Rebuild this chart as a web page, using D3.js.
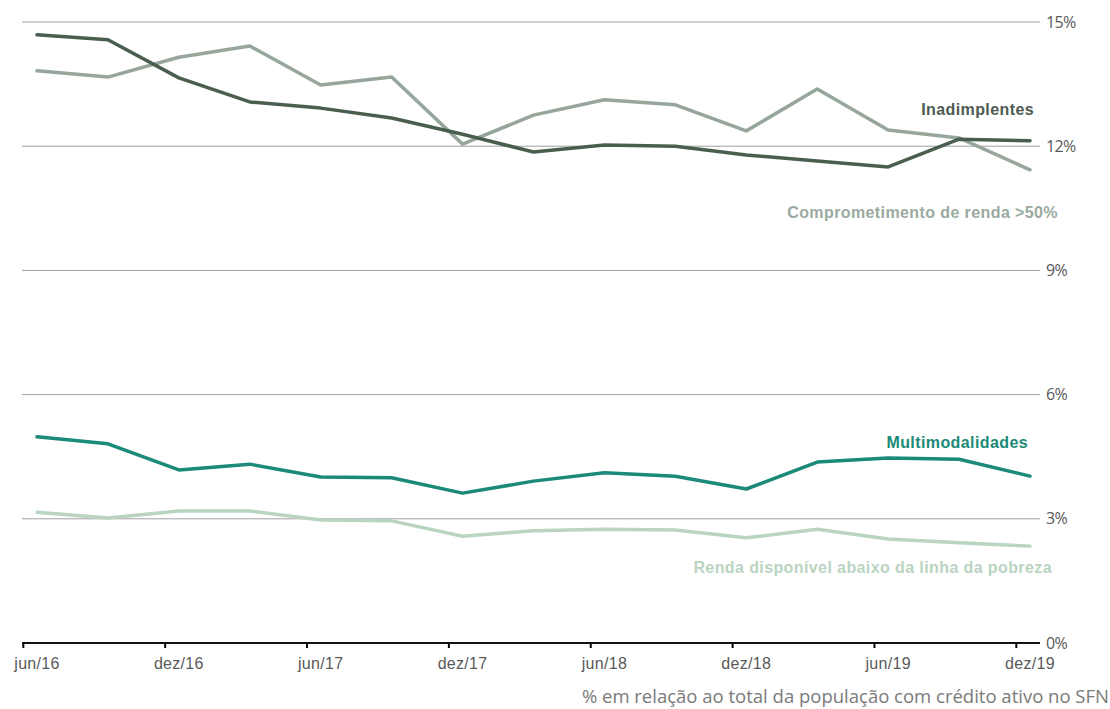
<!DOCTYPE html>
<html>
<head>
<meta charset="utf-8">
<script src="https://cdn.jsdelivr.net/npm/d3@7"></script>
<style>
  html, body { margin: 0; padding: 0; background: #fff; }
  svg { display: block; }
</style>
</head>
<body>
<svg id="chart" width="1110" height="709"></svg>
<script>
// Quarterly observations, jun/16 to dez/19
const periods = ["jun/16","set/16","dez/16","mar/17","jun/17","set/17","dez/17","mar/18",
                 "jun/18","set/18","dez/18","mar/19","jun/19","set/19","dez/19"];
const tickLabels = ["jun/16","dez/16","jun/17","dez/17","jun/18","dez/18","jun/19","dez/19"];
const yTicks = [0, 3, 6, 9, 12, 15];

const inadimplentes    = [14.69,14.57,13.65,13.07,12.92,12.68,12.29,11.86,12.03,12.00,11.79,11.64,11.50,12.17,12.13];
const comprometimento  = [13.82,13.67,14.15,14.42,13.48,13.67,12.05,12.75,13.12,13.00,12.37,13.38,12.39,12.20,11.43];
const multimodalidades = [4.98,4.81,4.18,4.32,4.01,3.99,3.62,3.91,4.11,4.03,3.72,4.37,4.47,4.44,4.03];
const rendaPobreza     = [3.16,3.02,3.19,3.19,2.97,2.95,2.58,2.71,2.75,2.73,2.54,2.75,2.51,2.42,2.34];

const series = [
  { name: "Comprometimento de renda >50%", values: comprometimento, color: "#96a69b",
    label: { x: 1058, y: 218, color: "#9aaa9f" } },
  { name: "Inadimplentes", values: inadimplentes, color: "#4a5e50",
    label: { x: 1034, y: 115, color: "#4d5a52" } },
  { name: "Renda disponível abaixo da linha da pobreza", values: rendaPobreza, color: "#b9d5c1",
    label: { x: 1052, y: 573, color: "#bad4c2" } },
  { name: "Multimodalidades", values: multimodalidades, color: "#1b8a78",
    label: { x: 1028, y: 448, color: "#1b8a78" } }
];

const svg = d3.select("#chart");
const plotLeft = 22, plotRight = 1040;

const x = d3.scaleLinear().domain([0, periods.length - 1]).range([37, 1030]);
const y = d3.scaleLinear().domain([0, 15]).range([643, 22]);

// horizontal gridlines
svg.append("g")
  .selectAll("line")
  .data(yTicks.filter(d => d > 0))
  .join("line")
  .attr("x1", plotLeft).attr("x2", plotRight)
  .attr("y1", d => y(d)).attr("y2", d => y(d))
  .attr("stroke", "#a0a0a0").attr("stroke-width", 1);

// right-hand value axis labels
const yAxis = d3.axisRight(y).tickValues(yTicks).tickSize(0).tickPadding(0)
  .tickFormat(d => d + "%");
svg.append("g")
  .attr("transform", `translate(${plotRight + 6},0)`)
  .call(yAxis)
  .call(g => g.select(".domain").remove())
  .call(g => g.selectAll("text")
    .attr("fill", "#595959")
    .attr("font-family", "Open Sans, sans-serif")
    .attr("font-size", 16)
    .attr("letter-spacing", -0.6));

// category axis: ticks sit a little before each semester's data point
const tickOffset = -0.2;
const xAxis = d3.axisBottom(x)
  .tickValues(tickLabels.map(t => periods.indexOf(t) + tickOffset))
  .tickSize(5).tickSizeOuter(0)
  .tickFormat(() => "");
const gx = svg.append("g")
  .attr("transform", `translate(0,${y(0)})`)
  .call(xAxis);
gx.select(".domain").remove();
gx.selectAll(".tick line").attr("stroke", "#000").attr("stroke-width", 2);
gx.append("line")
  .attr("x1", plotLeft).attr("x2", plotRight)
  .attr("y1", 0).attr("y2", 0)
  .attr("stroke", "#111").attr("stroke-width", 2);

svg.append("g")
  .selectAll("text")
  .data(tickLabels)
  .join("text")
  .attr("x", d => x(periods.indexOf(d)))
  .attr("y", y(0) + 26)
  .attr("text-anchor", "middle")
  .attr("fill", "#595959")
  .attr("font-family", "Liberation Sans, Arial, sans-serif")
  .attr("font-size", 16)
  .attr("letter-spacing", 0.3)
  .text(d => d);

// series lines
const line = d3.line().x((d, i) => x(i)).y(d => y(d));
svg.append("g")
  .selectAll("path")
  .data(series)
  .join("path")
  .attr("d", d => line(d.values))
  .attr("fill", "none")
  .attr("stroke", d => d.color)
  .attr("stroke-width", 3.5)
  .attr("stroke-linejoin", "round")
  .attr("stroke-linecap", "round");

// series names
svg.append("g")
  .selectAll("text")
  .data(series)
  .join("text")
  .attr("x", d => d.label.x)
  .attr("y", d => d.label.y)
  .attr("text-anchor", "end")
  .attr("fill", d => d.label.color)
  .attr("font-family", "Liberation Sans, Arial, sans-serif")
  .attr("font-weight", "bold")
  .attr("font-size", 16)
  .attr("letter-spacing", 0.4)
  .text(d => d.name);

// unit note
svg.append("text")
  .attr("x", 1109)
  .attr("y", 703)
  .attr("text-anchor", "end")
  .attr("fill", "#7a7a7a")
  .attr("font-family", "Open Sans, Noto Sans, sans-serif")
  .attr("font-size", 18.5)
  .text("% em relação ao total da população com crédito ativo no SFN");
</script>
</body>
</html>
